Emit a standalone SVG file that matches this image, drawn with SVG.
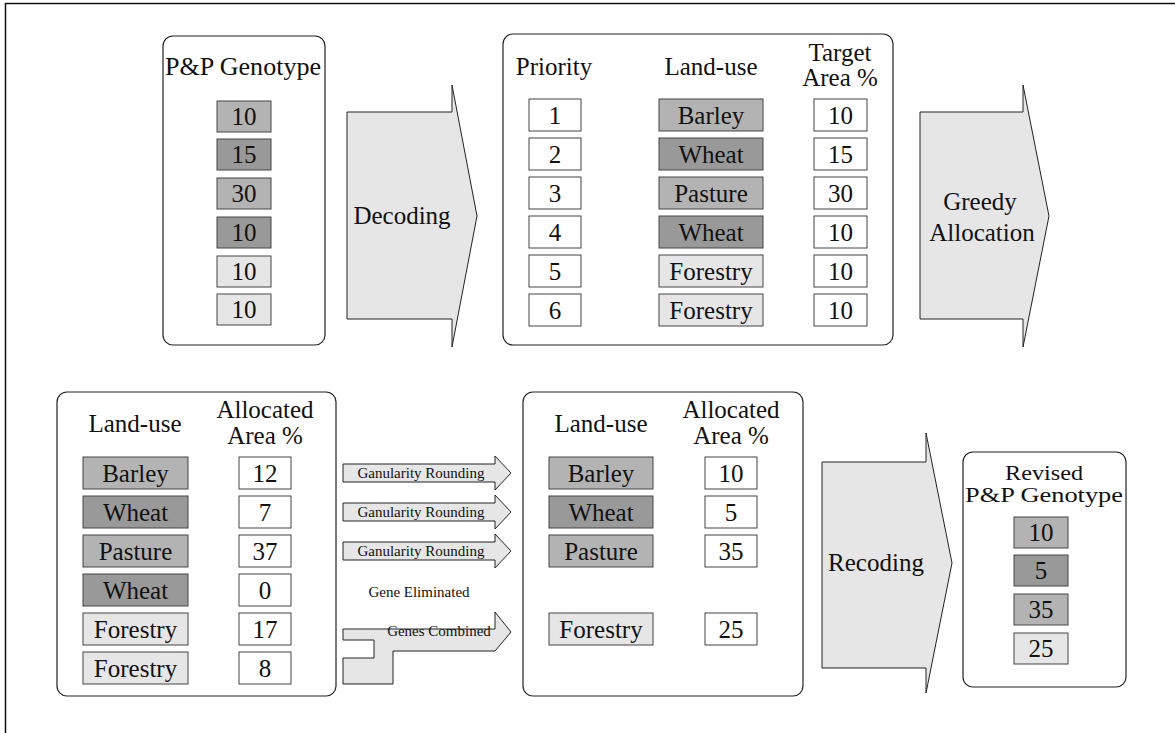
<svg xmlns="http://www.w3.org/2000/svg" width="1175" height="733" viewBox="0 0 1175 733">
<style>
.frame{fill:none;stroke:#111;stroke-width:1.5}
.panel{fill:#fff;stroke:#222;stroke-width:1.2}
.cell{stroke:#444;stroke-width:1}
.w{fill:#fff}.m{fill:#b3b3b3}.d{fill:#999}.l{fill:#e6e6e6}
.arrow{fill:#e6e6e6;stroke:#222;stroke-width:1;stroke-linejoin:miter}
text{font-family:"Liberation Serif","Times New Roman",serif;fill:#111;text-anchor:middle}
.t{font-size:25px}
.h{font-size:21px}
.s{font-size:15px}
</style>
<rect width="1175" height="733" fill="#fff"/>
<path class="frame" d="M5.5,733 V3.5 H1175"/>

<g id="genotype">
<rect class="panel" x="163" y="36" width="162" height="309" rx="10"/>
<text class="t" x="243" y="75" textLength="156" lengthAdjust="spacingAndGlyphs">P&amp;P Genotype</text>
<rect class="cell m" x="217" y="101" width="54" height="31"/><text class="t" x="244" y="125">10</text>
<rect class="cell d" x="217" y="139" width="54" height="31"/><text class="t" x="244" y="163">15</text>
<rect class="cell m" x="217" y="178" width="54" height="31"/><text class="t" x="244" y="202">30</text>
<rect class="cell d" x="217" y="217" width="54" height="31"/><text class="t" x="244" y="241">10</text>
<rect class="cell l" x="217" y="256" width="54" height="31"/><text class="t" x="244" y="280">10</text>
<rect class="cell l" x="217" y="294" width="54" height="31"/><text class="t" x="244" y="318">10</text>
</g>

<g id="decoded">
<rect class="panel" x="503" y="34" width="390" height="311" rx="10"/>
<text class="t" x="554" y="75">Priority</text>
<text class="t" x="711" y="75">Land-use</text>
<text class="t" x="840" y="61">Target</text>
<text class="t" x="840" y="86">Area %</text>
<rect class="cell w" x="529" y="99" width="52" height="32"/><text class="t" x="555" y="124">1</text>
<rect class="cell w" x="529" y="138" width="52" height="32"/><text class="t" x="555" y="163">2</text>
<rect class="cell w" x="529" y="177" width="52" height="32"/><text class="t" x="555" y="202">3</text>
<rect class="cell w" x="529" y="216" width="52" height="32"/><text class="t" x="555" y="241">4</text>
<rect class="cell w" x="529" y="255" width="52" height="32"/><text class="t" x="555" y="280">5</text>
<rect class="cell w" x="529" y="294" width="52" height="32"/><text class="t" x="555" y="319">6</text>
<rect class="cell m" x="659" y="99" width="104" height="32"/><text class="t" x="711" y="124">Barley</text>
<rect class="cell d" x="659" y="138" width="104" height="32"/><text class="t" x="711" y="163">Wheat</text>
<rect class="cell m" x="659" y="177" width="104" height="32"/><text class="t" x="711" y="202">Pasture</text>
<rect class="cell d" x="659" y="216" width="104" height="32"/><text class="t" x="711" y="241">Wheat</text>
<rect class="cell l" x="659" y="255" width="104" height="32"/><text class="t" x="711" y="280">Forestry</text>
<rect class="cell l" x="659" y="294" width="104" height="32"/><text class="t" x="711" y="319">Forestry</text>
<rect class="cell w" x="814" y="99" width="53" height="32"/><text class="t" x="840.5" y="124">10</text>
<rect class="cell w" x="814" y="138" width="53" height="32"/><text class="t" x="840.5" y="163">15</text>
<rect class="cell w" x="814" y="177" width="53" height="32"/><text class="t" x="840.5" y="202">30</text>
<rect class="cell w" x="814" y="216" width="53" height="32"/><text class="t" x="840.5" y="241">10</text>
<rect class="cell w" x="814" y="255" width="53" height="32"/><text class="t" x="840.5" y="280">10</text>
<rect class="cell w" x="814" y="294" width="53" height="32"/><text class="t" x="840.5" y="319">10</text>
</g>

<g id="allocated">
<rect class="panel" x="57" y="392" width="279" height="304" rx="10"/>
<text class="t" x="135" y="432">Land-use</text>
<text class="t" x="265" y="418">Allocated</text>
<text class="t" x="265" y="444">Area %</text>
<rect class="cell m" x="83" y="457" width="105" height="32"/><text class="t" x="135.5" y="482">Barley</text>
<rect class="cell d" x="83" y="496" width="105" height="32"/><text class="t" x="135.5" y="521">Wheat</text>
<rect class="cell m" x="83" y="535" width="105" height="32"/><text class="t" x="135.5" y="560">Pasture</text>
<rect class="cell d" x="83" y="574" width="105" height="32"/><text class="t" x="135.5" y="599">Wheat</text>
<rect class="cell l" x="83" y="613" width="105" height="32"/><text class="t" x="135.5" y="638">Forestry</text>
<rect class="cell l" x="83" y="652" width="105" height="32"/><text class="t" x="135.5" y="677">Forestry</text>
<rect class="cell w" x="239" y="457" width="52" height="32"/><text class="t" x="265" y="482">12</text>
<rect class="cell w" x="239" y="496" width="52" height="32"/><text class="t" x="265" y="521">7</text>
<rect class="cell w" x="239" y="535" width="52" height="32"/><text class="t" x="265" y="560">37</text>
<rect class="cell w" x="239" y="574" width="52" height="32"/><text class="t" x="265" y="599">0</text>
<rect class="cell w" x="239" y="613" width="52" height="32"/><text class="t" x="265" y="638">17</text>
<rect class="cell w" x="239" y="652" width="52" height="32"/><text class="t" x="265" y="677">8</text>
</g>

<g id="rounded">
<rect class="panel" x="523" y="392" width="280" height="304" rx="10"/>
<text class="t" x="601" y="432">Land-use</text>
<text class="t" x="731" y="418">Allocated</text>
<text class="t" x="731" y="444">Area %</text>
<rect class="cell m" x="549" y="457" width="104" height="32"/><text class="t" x="601" y="482">Barley</text>
<rect class="cell d" x="549" y="496" width="104" height="32"/><text class="t" x="601" y="521">Wheat</text>
<rect class="cell m" x="549" y="535" width="104" height="32"/><text class="t" x="601" y="560">Pasture</text>
<rect class="cell l" x="549" y="613" width="104" height="32"/><text class="t" x="601" y="638">Forestry</text>
<rect class="cell w" x="705" y="457" width="52" height="32"/><text class="t" x="731" y="482">10</text>
<rect class="cell w" x="705" y="496" width="52" height="32"/><text class="t" x="731" y="521">5</text>
<rect class="cell w" x="705" y="535" width="52" height="32"/><text class="t" x="731" y="560">35</text>
<rect class="cell w" x="705" y="613" width="52" height="32"/><text class="t" x="731" y="638">25</text>
</g>

<g id="revised">
<rect class="panel" x="963" y="452" width="163" height="235" rx="10"/>
<text class="h" x="1044" y="480" textLength="78" lengthAdjust="spacingAndGlyphs">Revised</text>
<text class="h" x="1044" y="502" textLength="158" lengthAdjust="spacingAndGlyphs">P&amp;P Genotype</text>
<rect class="cell m" x="1014" y="517" width="54" height="31"/><text class="t" x="1041" y="541">10</text>
<rect class="cell d" x="1014" y="555" width="54" height="31"/><text class="t" x="1041" y="579">5</text>
<rect class="cell m" x="1014" y="594" width="54" height="31"/><text class="t" x="1041" y="618">35</text>
<rect class="cell l" x="1014" y="633" width="54" height="31"/><text class="t" x="1041" y="657">25</text>
</g>

<g id="connectors">
<g id="decoding">
<path class="arrow" d="M347,112 H452 V85 L477,216 L452,347 V319 H347 Z"/>
<text class="t" x="402" y="224">Decoding</text>
</g>
<g id="greedy">
<path class="arrow" d="M920,112 H1023 V85 L1049,216 L1023,347 V319 H920 Z"/>
<text class="t" x="980" y="210">Greedy</text>
<text class="t" x="982" y="241">Allocation</text>
</g>
<g id="recoding">
<path class="arrow" d="M822,462 H926 V433 L952,563 L926,693 V668 H822 Z"/>
<text class="t" x="876" y="571">Recoding</text>
</g>
<g id="rounding">
<path class="arrow" d="M343,464 H495 V456 L511,473 L495,490 V482 H343 Z"/>
<text class="s" x="421" y="478">Ganularity Rounding</text>
<path class="arrow" d="M343,503 H495 V495 L511,512 L495,529 V521 H343 Z"/>
<text class="s" x="421" y="517">Ganularity Rounding</text>
<path class="arrow" d="M343,542 H495 V534 L511,551 L495,568 V560 H343 Z"/>
<text class="s" x="421" y="556">Ganularity Rounding</text>
</g>
<text class="s" x="419" y="597">Gene Eliminated</text>
<g id="combined">
<path class="arrow" d="M343,629 H495 V612 L511,632 L495,651 H393 V684 H343 V658 H374 V640 H343 Z"/>
<text class="s" x="439" y="636">Genes Combined</text>
</g>
</g>
</svg>
